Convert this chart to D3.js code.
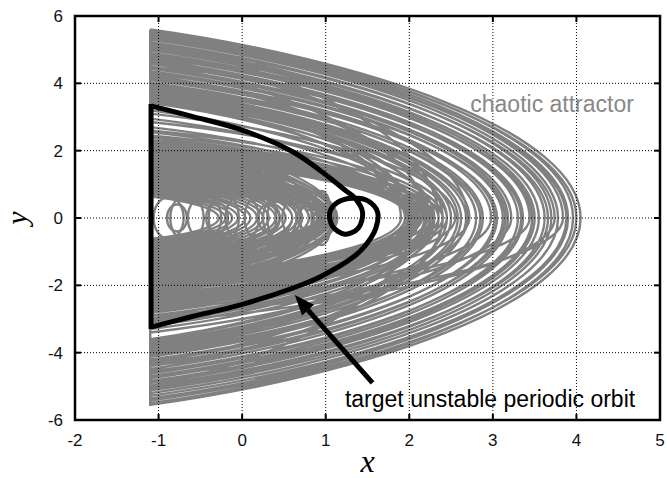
<!DOCTYPE html>
<html>
<head>
<meta charset="utf-8">
<script src="https://cdn.jsdelivr.net/npm/d3@7"></script>
<style>
  body { margin: 0; background: #fff; }
  text { font-family: "Liberation Sans", Arial, sans-serif; }
</style>
</head>
<body>
<svg id="chart" width="667" height="478"></svg>
<script>
const xTicks = [-2, -1, 0, 1, 2, 3, 4, 5];
const yTicks = [-6, -4, -2, 0, 2, 4, 6];

// gray attractor, one loop per bounce: wall velocity going out, farthest x, wall velocity coming back
// outer band
const outerTop = [5.60, 5.56, 5.50, 5.46, 5.40, 5.34, 5.30, 5.22, 5.17, 5.10, 5.04, 4.98, 4.90, 4.84, 4.78, 4.70,
  4.64, 4.58, 4.50, 4.44, 4.36, 4.30, 4.22, 4.16, 4.10, 4.02, 3.96, 3.90, 3.83, 3.76, 3.70, 3.64, 3.58, 3.52,
  3.46, 3.42, 3.55, 3.68, 4.25, 4.75];
const outerApex = [4.05, 3.96, 4.00, 3.90, 3.84, 3.88, 3.78, 3.70, 3.74, 3.62, 3.66, 3.55, 3.50, 3.44, 3.47, 3.36,
  3.30, 3.34, 3.22, 3.18, 3.12, 3.15, 3.02, 2.98, 3.05, 2.88, 2.80, 2.85, 2.72, 2.68, 2.62, 2.58, 2.50, 2.45,
  2.30, 2.10, 1.95, 2.25, 2.40, 2.70];
const outerBottom = [-5.55, -5.50, -5.42, -5.36, -2.90, -5.28, -5.20, -5.12, -3.10, -5.05, -4.98, -4.90, -4.84, -2.60,
  -4.76, -4.70, -4.62, -4.56, -3.00, -4.48, -4.40, -4.34, -4.26, -2.75, -4.20, -4.12, -4.05, -3.98, -2.45, -3.92,
  -3.85, -3.80, -3.74, -3.68, -3.62, -2.20, -1.90, -2.35, -4.30, -3.40];
// loops hugging the orbit
const midTop = [2.30, 2.26, 2.20, 2.15, 2.10, 2.05, 2.00, 1.96, 1.92, 1.88, 1.84, 1.80, 3.10, 2.85, 2.60, 2.45,
  2.38, 2.22, 2.12, 2.02, 1.94, 4.60, 3.80, 5.20, 4.00, 2.55, 2.70, 2.95, 3.20];
const midApex = [2.30, 2.25, 2.28, 2.18, 2.20, 2.12, 2.10, 2.06, 2.04, 2.02, 2.00, 1.98, 2.55, 2.45, 2.40, 2.35,
  2.22, 2.15, 2.08, 2.40, 2.00, 2.20, 2.05, 2.35, 1.90, 1.95, 2.00, 2.05, 2.10];
const midBottom = [-3.20, -3.12, -3.05, -2.98, -2.90, -2.82, -2.74, -2.66, -2.58, -2.50, -2.42, -2.34, -2.26, -2.18,
  -2.10, -2.04, -1.98, -1.92, -1.86, -4.50, -1.82, -3.60, -5.00, -3.30, -1.80, -2.15, -2.55, -1.95, -2.70];
// low loops near the wall
const lowTop = [1.78, 1.72, 1.66, 1.60, 1.54, 1.48, 1.42, 1.36, 1.30, 1.24, 1.18, 1.12, 1.06, 1.00, 0.94, 0.88,
  0.82, 0.76, 0.70, 0.64, 2.20, 2.05, 1.95, 1.90, 1.82, 1.70, 1.62, 1.50, 1.30, 1.20, 1.10, 1.00, 0.90,
  1.85, 1.70, 1.58, 1.45, 2.00, 2.40, 2.25, 2.10];
const lowApex = [1.05, 1.00, 0.92, 0.86, 0.80, 0.72, 0.66, 0.60, 0.52, 0.45, 0.40, 0.32, 0.25, 0.18, 0.10, 0.04,
  -0.05, -0.12, -0.20, -0.28, 1.00, 0.95, 0.98, 0.85, 0.90, 0.70, 0.95, 0.60, 1.00, 0.98, 1.00, 0.95, 0.90,
  1.06, 1.08, 1.04, 1.06, 1.10, 1.12, 1.10, 1.14];
const lowBottom = [-1.76, -1.70, -1.64, -1.58, -1.52, -1.46, -1.40, -1.34, -1.28, -1.22, -1.16, -1.10, -1.04, -0.98,
  -0.92, -0.86, -0.80, -0.74, -0.68, -0.62, -1.90, -2.10, -1.50, -2.00, -1.30, -1.90, -1.20, -1.60, -1.05, -1.25,
  -0.95, -1.15, -1.00, -1.80, -1.65, -1.55, -1.45, -1.95, -2.30, -2.15, -2.00];

// small curls around y = 0
const curlX = [-0.88, -0.66, -0.45, -0.22, 0.00, 0.22, 0.45, 0.66, 0.86, -0.78, -0.30, 0.32, 0.78, 0.95, 0.60];
const curlRx = [0.18, 0.20, 0.20, 0.18, 0.20, 0.19, 0.20, 0.18, 0.17, 0.12, 0.13, 0.13, 0.12, 0.12, 0.30];
const curlRy = [0.62, 0.70, 0.66, 0.72, 0.68, 0.70, 0.65, 0.60, 0.55, 0.40, 0.45, 0.42, 0.38, 0.80, 0.95];

// target unstable periodic orbit
const orbitX = [-1.09, -0.6, 0.00, 0.61, 1.05, 1.23, 1.35, 1.44, 1.39, 1.23, 1.08, 1.05, 1.15, 1.32,
  1.51, 1.62, 1.60, 1.48, 1.33, 0.93, 0.61, -0.02, -0.62, -1.09];
const orbitY = [3.33, 3.02, 2.61, 1.96, 1.19, 0.83, 0.59, 0.18, -0.30, -0.48, -0.24, 0.18, 0.48, 0.59,
  0.50, 0.18, -0.30, -0.80, -1.16, -1.75, -2.08, -2.58, -2.94, -3.24];

const svg = d3.select('#chart');
const x = d3.scaleLinear().domain([-2, 5]).range([75, 660]);
const y = d3.scaleLinear().domain([-6, 6]).range([420, 16]);
const wallX = -1.1;

const loopTop = outerTop.concat(midTop, lowTop);
const loopApex = outerApex.concat(midApex, lowApex);
const loopBottom = outerBottom.concat(midBottom, lowBottom);

// attractor
const gp = d3.path();
loopTop.forEach((t, i) => {
  const a = loopApex[i], b = loopBottom[i];
  const mid = wallX + 0.5 * (a - wallX);
  if (i === 0) gp.moveTo(x(wallX), y(t)); else gp.lineTo(x(wallX), y(t));
  gp.bezierCurveTo(x(mid), y(0.84 * t), x(a), y(0.46 * t), x(a), y(0));
  gp.bezierCurveTo(x(a), y(0.46 * b), x(mid), y(0.84 * b), x(wallX), y(b));
});
svg.append('path')
  .attr('d', gp.toString())
  .attr('fill', 'none')
  .attr('stroke', '#808080')
  .attr('stroke-width', 2.4);

svg.append('g')
  .selectAll('ellipse')
  .data(curlX)
  .enter()
  .append('ellipse')
  .attr('cx', d => x(d))
  .attr('cy', y(0))
  .attr('rx', (d, i) => x(d + curlRx[i]) - x(d))
  .attr('ry', (d, i) => y(0) - y(curlRy[i]))
  .attr('fill', 'none')
  .attr('stroke', '#808080')
  .attr('stroke-width', 2.4);

// dotted grid
const grid = svg.append('g')
  .attr('stroke', '#000')
  .attr('stroke-width', 1)
  .attr('stroke-dasharray', '1,2');
grid.selectAll('.gx')
  .data(xTicks.slice(1, -1))
  .enter()
  .append('line')
  .attr('x1', d => x(d)).attr('x2', d => x(d))
  .attr('y1', y(-6)).attr('y2', y(6));
grid.selectAll('.gy')
  .data(yTicks.slice(1, -1))
  .enter()
  .append('line')
  .attr('y1', d => y(d)).attr('y2', d => y(d))
  .attr('x1', x(-2)).attr('x2', x(5));

// periodic orbit
const pts = orbitX.map((d, i) => [d, orbitY[i]]);
svg.append('path')
  .attr('d', d3.line().x(d => x(d[0])).y(d => y(d[1])).curve(d3.curveCatmullRom.alpha(0.5))(pts))
  .attr('fill', 'none')
  .attr('stroke', '#000')
  .attr('stroke-width', 5)
  .attr('stroke-linejoin', 'round');
svg.append('line')
  .attr('x1', x(orbitX[0])).attr('x2', x(orbitX[orbitX.length - 1]))
  .attr('y1', y(orbitY[0]) - 2).attr('y2', y(orbitY[orbitY.length - 1]) + 2)
  .attr('stroke', '#000')
  .attr('stroke-width', 5);

// axes: inward ticks on all four sides
const tickLen = 6;
const ax = svg.append('g').attr('stroke', '#000').attr('stroke-width', 2);
xTicks.forEach(d => {
  ax.append('line').attr('x1', x(d)).attr('x2', x(d)).attr('y1', y(-6)).attr('y2', y(-6) - tickLen);
  ax.append('line').attr('x1', x(d)).attr('x2', x(d)).attr('y1', y(6)).attr('y2', y(6) + tickLen);
});
yTicks.forEach(d => {
  ax.append('line').attr('y1', y(d)).attr('y2', y(d)).attr('x1', x(-2)).attr('x2', x(-2) + tickLen);
  ax.append('line').attr('y1', y(d)).attr('y2', y(d)).attr('x1', x(5)).attr('x2', x(5) - tickLen);
});
svg.append('rect')
  .attr('x', x(-2)).attr('y', y(6))
  .attr('width', x(5) - x(-2)).attr('height', y(-6) - y(6))
  .attr('fill', 'none').attr('stroke', '#000').attr('stroke-width', 2.5);

svg.append('g')
  .selectAll('text')
  .data(xTicks)
  .enter()
  .append('text')
  .attr('x', d => x(d))
  .attr('y', y(-6) + 26)
  .attr('text-anchor', 'middle')
  .attr('font-size', 17)
  .attr('fill', '#111')
  .text(d => d);
svg.append('g')
  .selectAll('text')
  .data(yTicks)
  .enter()
  .append('text')
  .attr('x', x(-2) - 12)
  .attr('y', d => y(d))
  .attr('dy', '0.36em')
  .attr('text-anchor', 'end')
  .attr('font-size', 17)
  .attr('fill', '#111')
  .text(d => d);

svg.append('text')
  .attr('x', (x(-2) + x(5)) / 2)
  .attr('y', 472)
  .attr('text-anchor', 'middle')
  .style('font-family', '"Liberation Serif", "Times New Roman", serif')
  .style('font-style', 'italic')
  .attr('font-size', 32)
  .text('x');
svg.append('text')
  .attr('transform', `translate(27,${y(0)}) rotate(-90)`)
  .attr('text-anchor', 'middle')
  .style('font-family', '"Liberation Serif", "Times New Roman", serif')
  .style('font-style', 'italic')
  .attr('font-size', 30)
  .text('y');

// annotations
svg.append('text')
  .attr('x', x(2.73)).attr('y', y(3.15))
  .attr('font-size', 23)
  .attr('fill', '#888')
  .text('chaotic attractor');
svg.append('text')
  .attr('x', x(1.23)).attr('y', y(-5.61))
  .attr('font-size', 23)
  .attr('fill', '#000')
  .text('target unstable periodic orbit');

// arrow toward the orbit
const tail = [x(1.56), y(-4.9)], tip = [x(0.63), y(-2.29)];
const ang = Math.atan2(tip[1] - tail[1], tip[0] - tail[0]);
const headLen = 20, headHalf = 8;
const base = [tip[0] - headLen * Math.cos(ang), tip[1] - headLen * Math.sin(ang)];
svg.append('line')
  .attr('x1', tail[0]).attr('y1', tail[1])
  .attr('x2', base[0]).attr('y2', base[1])
  .attr('stroke', '#000').attr('stroke-width', 5);
svg.append('polygon')
  .attr('points', [
    tip,
    [base[0] + headHalf * Math.sin(ang), base[1] - headHalf * Math.cos(ang)],
    [base[0] - headHalf * Math.sin(ang), base[1] + headHalf * Math.cos(ang)]
  ].map(p => p.join(',')).join(' '))
  .attr('fill', '#000');
</script>
</body>
</html>
